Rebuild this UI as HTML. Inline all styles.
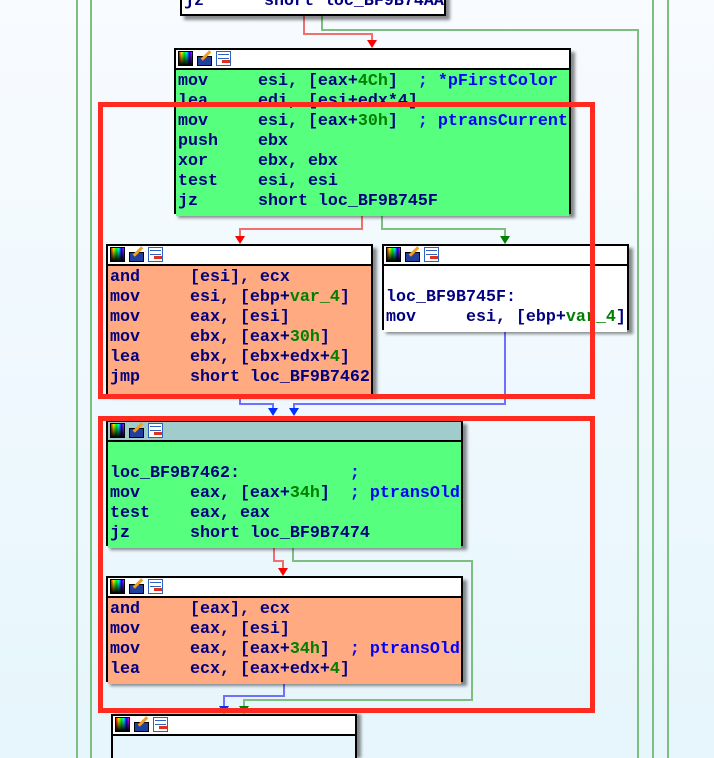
<!DOCTYPE html>
<html style="width:714px;height:758px;overflow:hidden"><head><meta charset="utf-8">
<style>
html,body{margin:0;padding:0}
body{width:714px;height:758px;overflow:hidden;position:relative;background:linear-gradient(#f8fbff,#e6f6fc);font-family:"Liberation Mono",monospace;}
.n{position:absolute;border:2px solid #000;box-shadow:4px 4px 3px rgba(0,0,0,0.45);box-sizing:border-box;}
.h{height:18px;background:#fff;border-bottom:2px solid #000;position:relative}
.h.t{background:#a0cccc}
.b{font-size:16.67px;line-height:20px;color:#000080;white-space:pre;padding-left:2px;padding-top:2px;font-weight:bold}
.g{background:#57ff7f}.o{background:#ffaa80}.w{background:#fff}
.k{color:#008000}.c{color:#0000ff}
.ic{position:absolute;top:1px;width:15px;height:15px;box-sizing:border-box}
.i1{left:2px;background:linear-gradient(to bottom,rgba(0,0,0,0),#000),linear-gradient(to right,#f00,#ff0,#0f0,#0ff,#00f,#f0f);border:1px solid #000}
.i2{left:21px;background:#2040a0;border:1px solid #000;top:6px;height:10px}
.i2:after{content:"";position:absolute;left:2px;top:-3px;width:12px;height:3px;background:#f0a020;transform:rotate(-45deg)}
.i3{left:40px;background:#fff;border:1px solid #3060c0}
.i3:after{content:"";position:absolute;left:5px;top:8px;width:8px;height:3px;background:#e03020}
.i3:before{content:"";position:absolute;left:1px;top:2px;width:11px;height:3px;border-top:1px solid #3060c0;border-bottom:1px solid #3060c0}
</style></head><body>
<svg width="714" height="758" style="position:absolute;left:0;top:0">
<g fill="none" stroke-width="2">
<polyline points="77,0 77,758" stroke="#7dbf80"/>
<polyline points="91,0 91,758" stroke="#7dbf80"/>
<polyline points="653,0 653,758" stroke="#7dbf80"/>
<polyline points="668,0 668,758" stroke="#7dbf80"/>
<polyline points="304,15 304,34 372,34 372,42" stroke="#f07070"/>
<polyline points="322,15 322,30 638,30 638,758" stroke="#7dbf80"/>
<polyline points="362,213 362,229 240,229 240,238" stroke="#f07070"/>
<polyline points="382,213 382,229 505,229 505,238" stroke="#7dbf80"/>
<polyline points="240,393 240,404 273,404 273,410" stroke="#7070ff"/>
<polyline points="505,329 505,404 294,404 294,410" stroke="#7070ff"/>
<polyline points="274,545 274,561 283,561 283,570" stroke="#f07070"/>
<polyline points="293,545 293,561 472,561 472,700 244,700 244,708" stroke="#7dbf80"/>
<polyline points="284,681 284,696 224,696 224,708" stroke="#7070ff"/>
</g>
<polygon points="367,40 377,40 372,48" fill="#f00"/>
<polygon points="235,236 245,236 240,244" fill="#f00"/>
<polygon points="500,236 510,236 505,244" fill="#008000"/>
<polygon points="268,408 278,408 273,416" fill="#0030ff"/>
<polygon points="289,408 299,408 294,416" fill="#0030ff"/>
<polygon points="278,568 288,568 283,576" fill="#f00"/>
<polygon points="219,706 229,706 224,714" fill="#0030ff"/>
<polygon points="239,706 249,706 244,714" fill="#008000"/>
</svg>

<div class="n w" style="left:180px;top:-12px;width:266px;height:28px"><div class="b">jz      short loc_BF9B74AA</div></div>

<div class="n" style="left:174px;top:48px;width:397px;height:166px">
<div class="h"><i class="ic i1"></i><i class="ic i2"></i><i class="ic i3"></i></div>
<div class="b g" style="height:144px">mov     esi, [eax+<span class="k">4Ch</span>]  <span class="c">; *pFirstColor</span>
lea     edi, [esi+edx*4]
mov     esi, [eax+<span class="k">30h</span>]  <span class="c">; ptransCurrent</span>
push    ebx
xor     ebx, ebx
test    esi, esi
jz      short loc_BF9B745F</div></div>

<div class="n" style="left:106px;top:244px;width:267px;height:150px">
<div class="h"><i class="ic i1"></i><i class="ic i2"></i><i class="ic i3"></i></div>
<div class="b o" style="height:128px">and     [esi], ecx
mov     esi, [ebp+<span class="k">var_4</span>]
mov     eax, [esi]
mov     ebx, [eax+<span class="k">30h</span>]
lea     ebx, [ebx+edx+<span class="k">4</span>]
jmp     short loc_BF9B7462</div></div>

<div class="n" style="left:382px;top:244px;width:247px;height:86px">
<div class="h"><i class="ic i1"></i><i class="ic i2"></i><i class="ic i3"></i></div>
<div class="b w" style="height:64px">
loc_BF9B745F:
mov     esi, [ebp+<span class="k">var_4</span>]</div></div>

<div class="n" style="left:106px;top:420px;width:357px;height:126px">
<div class="h t"><i class="ic i1"></i><i class="ic i2"></i><i class="ic i3"></i></div>
<div class="b g" style="height:104px">
loc_BF9B7462:           <span class="c">;</span>
mov     eax, [eax+<span class="k">34h</span>]  <span class="c">; ptransOld</span>
test    eax, eax
jz      short loc_BF9B7474</div></div>

<div class="n" style="left:106px;top:576px;width:357px;height:106px">
<div class="h"><i class="ic i1"></i><i class="ic i2"></i><i class="ic i3"></i></div>
<div class="b o" style="height:84px">and     [eax], ecx
mov     eax, [esi]
mov     eax, [eax+<span class="k">34h</span>]  <span class="c">; ptransOld</span>
lea     ecx, [eax+edx+<span class="k">4</span>]</div></div>

<div class="n" style="left:111px;top:714px;width:246px;height:44px;border-bottom:none;box-shadow:4px 0 3px rgba(0,0,0,0.45)">
<div class="h"><i class="ic i1"></i><i class="ic i2"></i><i class="ic i3"></i></div>
</div>

<div style="position:absolute;left:98px;top:102px;width:497px;height:297px;border:5px solid #ff2a20;box-sizing:border-box"></div>
<div style="position:absolute;left:98px;top:416px;width:497px;height:297px;border:5px solid #ff2a20;box-sizing:border-box"></div>
</body></html>
